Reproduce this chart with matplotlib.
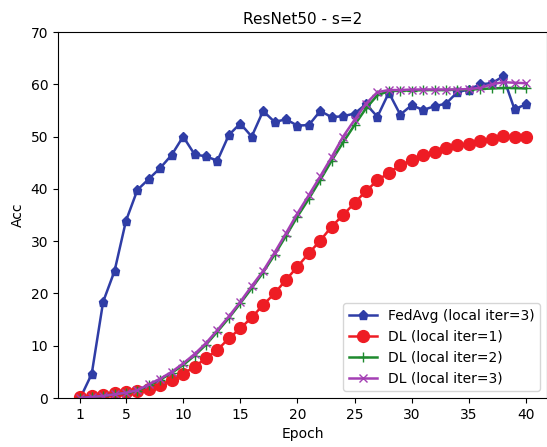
import matplotlib
matplotlib.use("Agg")
import matplotlib.pyplot as plt
import numpy as np

epochs = list(range(1, 41))
fedavg = [0.0, 4.6, 18.4, 24.3, 33.9, 39.8, 41.9, 44.0, 46.5, 50.0,
          46.6, 46.2, 45.4, 50.3, 52.5, 50.0, 54.9, 52.8, 53.3, 52.1,
          52.2, 54.9, 53.7, 53.9, 54.4, 56.2, 53.8, 58.4, 54.2, 56.0,
          55.1, 55.8, 56.3, 58.5, 59.0, 60.0, 60.2, 61.5, 55.2, 56.2]
dl_iter1 = [0.2, 0.4, 0.6, 0.9, 1.2, 1.4, 1.8, 2.5, 3.4, 4.6,
            6.0, 7.6, 9.2, 11.4, 13.3, 15.4, 17.8, 20.0, 22.6, 25.1,
            27.7, 30.1, 32.8, 35.0, 37.3, 39.6, 41.6, 43.1, 44.5, 45.5,
            46.5, 47.1, 47.9, 48.4, 48.5, 49.1, 49.6, 50.1, 50.0, 50.0]
dl_iter2 = [0.0, 0.2, 0.4, 0.7, 1.0, 1.4, 2.4, 3.5, 4.8, 6.3,
            8.1, 10.2, 12.7, 15.3, 18.1, 21.0, 24.0, 27.4, 31.0, 34.7,
            38.1, 41.7, 45.4, 48.9, 52.2, 55.4, 57.9, 58.7, 58.8, 58.8,
            58.9, 58.9, 58.9, 59.0, 59.0, 59.1, 59.2, 59.3, 59.3, 59.2]
dl_iter3 = [0.0, 0.2, 0.4, 0.7, 1.0, 1.5, 2.6, 3.7, 5.0, 6.6,
            8.4, 10.5, 13.0, 15.6, 18.4, 21.4, 24.3, 27.8, 31.5, 35.3,
            38.8, 42.4, 46.1, 50.0, 53.2, 56.3, 58.5, 58.9, 58.9, 59.0,
            59.0, 59.0, 59.0, 59.0, 59.1, 59.3, 60.0, 60.4, 60.3, 60.2]
xticks = [1, 5, 10, 15, 20, 25, 30, 35, 40]
labels = ["FedAvg (local iter=3)", "DL (local iter=1)",
          "DL (local iter=2)", "DL (local iter=3)"]

fig = plt.figure(figsize=(5.47, 4.47), dpi=100)
ax = fig.add_axes([58/547, 1 - 398/447, (547 - 58)/547, (398 - 32)/447])

ax.plot(epochs, fedavg, color="#2f3da6", marker="p", markersize=6.5, linewidth=1.8, label=labels[0])
ax.plot(epochs, dl_iter1, color="#ee1c24", marker="o", markersize=8.5, linewidth=1.8, label=labels[1])
ax.plot(epochs, dl_iter2, color="#1e8a2e", marker="+", markersize=7, linewidth=1.8, label=labels[2])
ax.plot(epochs, dl_iter3, color="#a43fb4", marker="x", markersize=6, linewidth=1.8, label=labels[3])

ax.set_xlim(-0.95, 41.84)
ax.set_ylim(0, 70)
ax.set_xticks(xticks)
ax.set_xticklabels([str(t) for t in xticks])
ax.tick_params(labelsize=10)
ax.set_xlabel("Epoch", fontsize=10)
ax.set_ylabel("Acc", fontsize=10)
ax.set_title("ResNet50 - s=2", fontsize=11)
ax.legend(loc="lower right", fontsize=10)

fig.savefig("out.png", dpi=100)
